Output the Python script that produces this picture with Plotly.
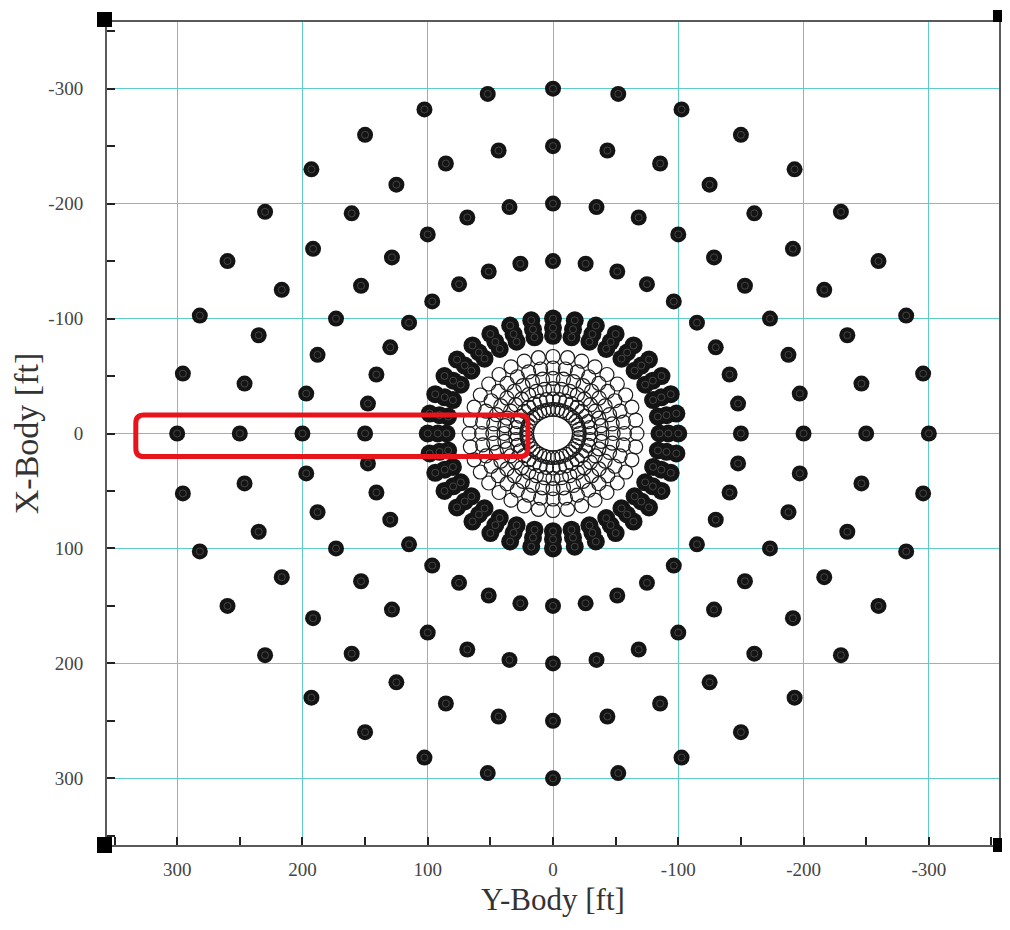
"""Body-frame point layout: concentric rings, reversed Cartesian axes"""

import math
import plotly.graph_objects as go

# ring angles (deg) shared by every ring
ANGLES_DEG = [0, 10, 20, 30, 40, 50, 60, 70, 80, 90, 100, 110, 120, 130, 140, 150, 160, 170,
              180, 190, 200, 210, 220, 230, 240, 250, 260, 270, 280, 290, 300, 310, 320, 330, 340, 350]

# ring radii [ft]
OUTER_RINGS = [150, 200, 250, 300]          # sparse filled rings
DENSE_RINGS = [85, 92, 100]                 # tight filled band
INNER_RINGS = [21, 30, 39, 48, 57, 67]      # open-circle rings

TICK_VALS = [-300, -200, -100, 0, 100, 200, 300]
TICK_TEXT = ["-300", "-200", "-100", "0", "100", "200", "300"]

# highlighted region [ft]: Y-Body from/to, X-Body from/to
BOX_Y = (333, 20)
BOX_X = (-16, 20)


def ring_points(radii):
    ys, xs = [], []
    for r in radii:
        for a in ANGLES_DEG:
            t = math.radians(a)
            ys.append(r * math.sin(t))
            xs.append(r * math.cos(t))
    return ys, xs


fig = go.Figure()

# open inner rings
iy, ix = ring_points(INNER_RINGS)
fig.add_trace(go.Scatter(
    x=iy, y=ix, mode="markers",
    marker=dict(symbol="circle-open", size=14, color="#1a1a1a", line=dict(width=1.2)),
    hoverinfo="skip",
))

# filled rings
oy, ox = ring_points(OUTER_RINGS)
dy, dx = ring_points(DENSE_RINGS)
for xs, ys, sz in [(oy, ox, 16), (dy, dx, 18)]:
    fig.add_trace(go.Scatter(
        x=xs, y=ys, mode="markers",
        marker=dict(symbol="circle", size=sz, color="#141414", line=dict(width=0)),
        hoverinfo="skip",
    ))
    fig.add_trace(go.Scatter(
        x=xs, y=ys, mode="markers",
        marker=dict(symbol="circle-open", size=7, color="rgba(255,255,255,0.2)", line=dict(width=1)),
        hoverinfo="skip",
    ))

# red rounded highlight box
x0, x1 = BOX_Y
y0, y1 = BOX_X
rx, ry = 6.5, 7
path = (
    f"M {x0 - rx},{y0} L {x1 + rx},{y0} Q {x1},{y0} {x1},{y0 + ry} "
    f"L {x1},{y1 - ry} Q {x1},{y1} {x1 + rx},{y1} "
    f"L {x0 - rx},{y1} Q {x0},{y1} {x0},{y1 - ry} "
    f"L {x0},{y0 + ry} Q {x0},{y0} {x0 - rx},{y0} Z"
)
fig.add_shape(type="path", path=path, xref="x", yref="y",
              line=dict(color="#e8141c", width=5), layer="above")

# black corner markers of the frame (pixel offsets from each corner)
corners = [
    (0, 1, -10, 5, -5, 10),
    (1, 1, -6, 4, 0, 12),
    (0, 0, -10, 5, -8, 8),
    (1, 0, -6, 4, -7, 7),
]
for px, py, cx0, cx1, cy0, cy1 in corners:
    fig.add_shape(type="rect", xref="paper", yref="paper",
                  xsizemode="pixel", ysizemode="pixel", xanchor=px, yanchor=py,
                  x0=cx0, x1=cx1, y0=cy0, y1=cy1,
                  fillcolor="black", line=dict(width=0), layer="above")

axis_common = dict(
    tickvals=TICK_VALS, ticktext=TICK_TEXT,
    showgrid=True, gridcolor="#5fcccc", gridwidth=1,
    zeroline=False,
    showline=True, linecolor="#5a5a5a", linewidth=2, mirror=True,
    ticks="",
    minor=dict(dtick=50, tick0=0, ticks="inside", ticklen=8, tickwidth=2,
               tickcolor="#222", showgrid=False),
    tickfont=dict(family="Liberation Serif", size=19, color="#444"),
)

fig.update_layout(
    width=1010, height=930,
    plot_bgcolor="white", paper_bgcolor="white",
    showlegend=False,
    margin=dict(l=99, r=19, t=14, b=93),
    xaxis=dict(range=[356, -356], **axis_common, ticklabelstandoff=6,
               title=dict(text="Y-Body [ft]", standoff=10,
                          font=dict(family="Liberation Serif", size=31, color="#333"))),
    yaxis=dict(range=[358, -358], **axis_common, ticklabelstandoff=18,
               title=dict(text="X-Body [ft]", standoff=6,
                          font=dict(family="Liberation Serif", size=34, color="#333"))),
)

fig.write_html("out.html")
